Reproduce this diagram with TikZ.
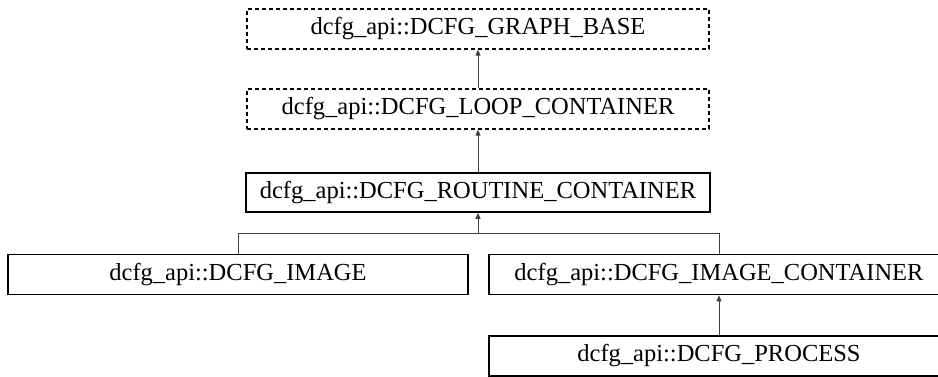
\documentclass[tikz,border=0pt]{standalone}
\usepackage{fontspec}
\setmainfont{Liberation Serif}
\usetikzlibrary{arrows.meta}
\begin{document}
\begin{tikzpicture}[x=1pt,y=-1pt,
  txt/.style={font=\fontsize{24.5}{28}\selectfont,inner sep=0pt},
  cls/.style={txt,draw=black,line width=1.6pt,fill=white},
  dcls/.style={cls,dashed,line width=1.2pt,dash pattern=on 4pt off 3pt},
  inh/.style={draw=black!75,line width=1pt,-{Triangle[length=6pt,width=5pt]}},
  ln/.style={draw=black!75,line width=1pt}]
\useasboundingbox (0,0) rectangle (938,376);
\node[dcls,minimum width=462pt,minimum height=40pt] (gb) at (478,29) {dcfg\_api::DCFG\_GRAPH\_BASE};
\node[dcls,minimum width=462pt,minimum height=40pt] (lc) at (478,109) {dcfg\_api::DCFG\_LOOP\_CONTAINER};
\node[cls,minimum width=464pt,minimum height=39pt] (rc) at (478,192.5) {dcfg\_api::DCFG\_ROUTINE\_CONTAINER};
\node[cls,minimum width=460pt,minimum height=40pt] (im) at (238,274.5) {dcfg\_api::DCFG\_IMAGE};
\node[cls,minimum width=462pt,minimum height=40pt,anchor=west] (ic) at (488,274.5) {};
\node[txt] (ict) at (719,274.5) {dcfg\_api::DCFG\_IMAGE\_CONTAINER};
\node[cls,minimum width=462pt,minimum height=40pt,anchor=west] (pr) at (488,356) {};
\node[txt] (prt) at (719,356) {dcfg\_api::DCFG\_PROCESS};
\coordinate (j) at (478,233);
\coordinate (jl) at (im.north |- j);
\coordinate (jr) at (ict.center |- j);
\draw[inh] (lc.north) -- (gb.south);
\draw[inh] (rc.north) -- (lc.south);
\draw[inh] (j) -- (j |- rc.south);
\draw[ln] (im.north) -- (jl) -- (jr) -- (ict.center |- ic.north);
\draw[inh] (prt.center |- pr.north) -- (ict.center |- ic.south);
\end{tikzpicture}
\end{document}
